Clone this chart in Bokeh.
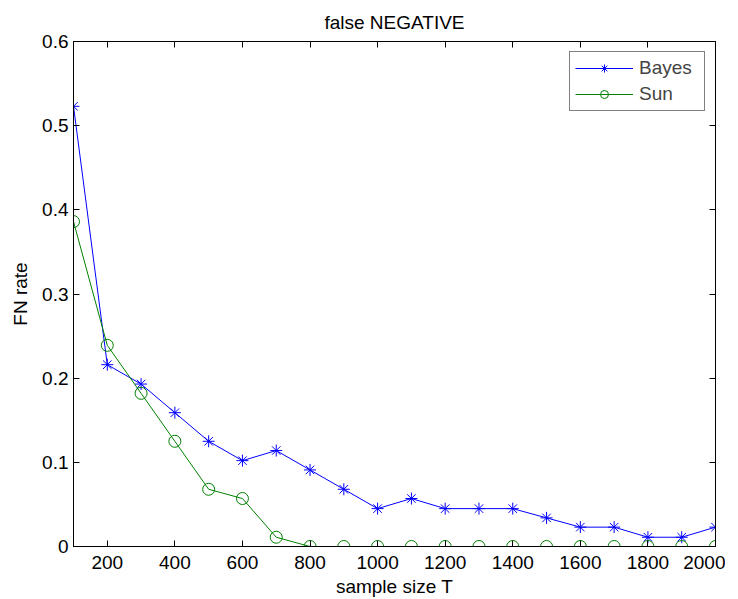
from bokeh.plotting import figure
from bokeh.models import LinearAxis, FixedTicker, Legend, LegendItem, Range1d
from bokeh.embed import file_html
from bokeh.resources import INLINE

sample_size = [100, 200, 300, 400, 500, 600, 700, 800, 900, 1000,
               1100, 1200, 1300, 1400, 1500, 1600, 1700, 1800, 1900, 2000]
bayes = [0.523, 0.216, 0.193, 0.159, 0.125, 0.102, 0.114, 0.091, 0.068, 0.045,
         0.057, 0.045, 0.045, 0.045, 0.034, 0.023, 0.023, 0.011, 0.011, 0.023]
sun = [0.386, 0.239, 0.182, 0.125, 0.068, 0.057, 0.011, 0.0, 0.0, 0.0,
       0.0, 0.0, 0.0, 0.0, 0.0, 0.0, 0.0, 0.0, 0.0, 0.0]
x_ticks = [200, 400, 600, 800, 1000, 1200, 1400, 1600, 1800, 2000]
y_ticks = [0, 0.1, 0.2, 0.3, 0.4, 0.5, 0.6]
y_tick_labels = ["0", "0.1", "0.2", "0.3", "0.4", "0.5", "0.6"]

FONT = "Liberation Sans"
FS = "19px"

p = figure(output_backend="svg", toolbar_location=None,
           frame_width=642, frame_height=505,
           x_range=Range1d(100, 2000), y_range=Range1d(0, 0.6),
           min_border_left=73, min_border_right=10,
           min_border_top=41, min_border_bottom=52,
           title="false NEGATIVE")
p.title.align = "center"
p.title.text_font = FONT
p.title.text_font_size = FS
p.title.text_font_style = "normal"
p.title.text_color = "black"
p.title.standoff = 18
p.grid.visible = False
p.outline_line_color = "black"
p.outline_line_width = 1
p.background_fill_color = "white"
p.border_fill_color = "white"

for ax in (p.xaxis[0], p.yaxis[0]):
    ax.major_tick_in = 6
    ax.major_tick_out = 0
    ax.minor_tick_line_color = None
    ax.axis_line_color = "black"
    ax.major_label_text_font = FONT
    ax.major_label_text_font_size = FS
    ax.major_label_text_color = "black"
    ax.axis_label_text_font = FONT
    ax.axis_label_text_font_size = FS
    ax.axis_label_text_font_style = "normal"
    ax.axis_label_text_color = "black"
p.xaxis[0].ticker = FixedTicker(ticks=x_ticks)
p.yaxis[0].ticker = FixedTicker(ticks=y_ticks)
p.yaxis[0].major_label_overrides = dict(zip(y_ticks, y_tick_labels))
p.xaxis[0].axis_label = "sample size T"
p.yaxis[0].axis_label = "FN rate"
p.xaxis[0].axis_label_standoff = 4
p.yaxis[0].axis_label_standoff = 8
p.xaxis[0].major_label_standoff = 9
p.yaxis[0].major_label_standoff = 5

top = LinearAxis(ticker=FixedTicker(ticks=x_ticks), major_tick_in=6, major_tick_out=0,
                 minor_tick_line_color=None, major_label_text_color=None,
                 major_label_text_font_size="1px", major_label_standoff=0)
right = LinearAxis(ticker=FixedTicker(ticks=y_ticks), major_tick_in=6, major_tick_out=0,
                   minor_tick_line_color=None, major_label_text_color=None,
                   major_label_text_font_size="1px", major_label_standoff=0)
p.add_layout(top, "above")
p.add_layout(right, "right")

bl = p.line(sample_size, bayes, line_color="#0000ff", line_width=1)
bm = p.scatter(sample_size, bayes, marker="asterisk", size=12, line_color="#0000ff", line_width=1)
sl = p.line(sample_size, sun, line_color="#008000", line_width=1)
sm = p.scatter(sample_size, sun, marker="circle", size=12, line_color="#008000",
               fill_color=None, line_width=1)

legend = Legend(items=[LegendItem(label="Bayes", renderers=[bl, bm]),
                       LegendItem(label="Sun", renderers=[sl, sm])],
                location="top_right")
legend.border_line_color = "black"
legend.border_line_width = 1
legend.label_text_font = FONT
legend.label_text_font_size = FS
legend.glyph_width = 58
legend.glyph_height = 20
legend.label_height = 20
legend.label_width = 60
legend.spacing = 4
legend.padding = 5
legend.margin = 10
legend.label_standoff = 6
legend.background_fill_alpha = 1
p.add_layout(legend)

open("out.html", "w").write(file_html(p, INLINE))
